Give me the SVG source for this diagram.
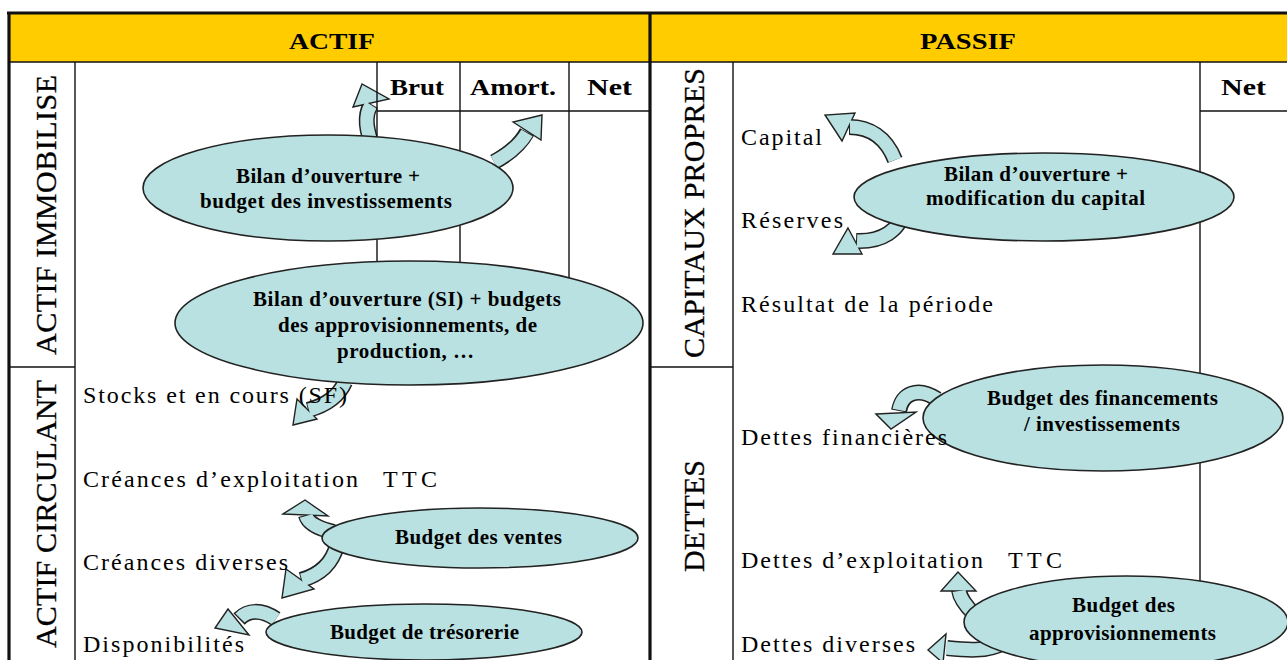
<svg xmlns="http://www.w3.org/2000/svg" width="1287" height="660" viewBox="0 0 1287 660">
<style>
.ln{stroke:#111;stroke-width:1.4;fill:none}
.thick{stroke:#111;stroke-width:3.2;fill:none}
.hdr{font-family:"Liberation Serif",serif;font-weight:bold;font-size:23px;fill:#000;text-anchor:middle}
.col{font-family:"Liberation Serif",serif;font-weight:bold;font-size:23px;fill:#000}
.side{font-family:"Liberation Serif",serif;font-size:30px;fill:#000;text-anchor:middle;stroke:#000;stroke-width:0.3}
.body{font-family:"Liberation Serif",serif;font-size:24px;fill:#000}
.node ellipse{fill:#b9e1e1;stroke:#222;stroke-width:1.6}
.node text{font-family:"Liberation Serif",serif;font-weight:bold;font-size:21px;fill:#000}
.bo{fill:none;stroke:#222;stroke-width:16;stroke-linecap:butt}
.bi{fill:none;stroke:#b9e1e1;stroke-width:13;stroke-linecap:butt}
.hd{fill:#b9e1e1;stroke:#222;stroke-width:1.4;stroke-linejoin:miter}
</style>
<rect x="0" y="0" width="1287" height="660" fill="#fff"/>
<rect x="9" y="13" width="1278" height="49" fill="#ffcc00"/>

<g id="connectors">
  <g id="arr-brut">
    <path class="bo" d="M374 150 C366 130 364 116 371 104"/>
    <polygon class="hd" points="353,107 389,99 362,84"/>
    <path class="bi" d="M374 150 C366 130 364 116 371 105"/>
  </g>
  <g id="arr-amort">
    <path class="bo" d="M494 162 C511 153 521 143 527 132"/>
    <polygon class="hd" points="513,122 541,140 542,115"/>
    <path class="bi" d="M494 162 C511 153 521 143 527 133"/>
  </g>
  <g id="arr-stocks">
    <path class="bo" d="M345 382 C338 398 323 406 308 410"/>
    <polygon class="hd" points="297,399 317,419 293,425"/>
    <path class="bi" d="M345 382 C338 398 323 406 309 410"/>
  </g>
  <g id="arr-creances-exp">
    <path class="bo" d="M334 532 C319 529 308 523 306 515"/>
    <polygon class="hd" points="283,514 328,516 305,500"/>
    <path class="bi" d="M334 532 C319 529 308 523 306 516"/>
  </g>
  <g id="arr-creances-div">
    <path class="bo" d="M337 545 C332 565 319 575 301 580"/>
    <polygon class="hd" points="286,569 314,589 282,598"/>
    <path class="bi" d="M337 545 C332 565 319 575 302 580"/>
  </g>
  <g id="arr-dispo">
    <path class="bo" d="M276 619 C261 609 248 610 239 619"/>
    <polygon class="hd" points="228,609 249,635 215,628"/>
    <path class="bi" d="M276 619 C261 609 248 610 240 618"/>
  </g>
  <g id="arr-capital">
    <path class="bo" d="M895 160 C886 137 869 127 849 127"/>
    <polygon class="hd" points="855,113 842,141 825,115"/>
    <path class="bi" d="M895 160 C886 137 869 127 850 127"/>
  </g>
  <g id="arr-reserves">
    <path class="bo" d="M904 208 C901 231 881 242 856 241"/>
    <polygon class="hd" points="848,228 862,254 833,254"/>
    <path class="bi" d="M904 208 C901 231 881 242 857 241"/>
  </g>
  <g id="arr-dettes-fin">
    <path class="bo" d="M937 399 C917 386 902 394 899 411"/>
    <polygon class="hd" points="876,414 916,412 891,429"/>
    <path class="bi" d="M937 399 C917 386 902 394 899 410"/>
  </g>
  <g id="arr-dettes-exp">
    <path class="bo" d="M974 614 C966 606 960 598 959 590"/>
    <polygon class="hd" points="941,591 976,591 958,572"/>
    <path class="bi" d="M974 614 C966 606 960 598 959 591"/>
  </g>
  <g id="arr-dettes-div">
    <path class="bo" d="M1003 643 C987 652 966 650 947 648"/>
    <polygon class="hd" points="946,634 943,663 928,650"/>
    <path class="bi" d="M1003 643 C987 652 966 650 946 648"/>
  </g>
</g>

<g id="table">
  <line class="thick" x1="7" y1="13" x2="1287" y2="13"/>
  <line class="thick" x1="9" y1="12" x2="9" y2="660"/>
  <line class="thick" x1="650" y1="12" x2="650" y2="660"/>
  <line class="ln" x1="9" y1="62" x2="1287" y2="62"/>
  <line class="ln" x1="75" y1="62" x2="75" y2="660"/>
  <line class="ln" x1="733" y1="62" x2="733" y2="660"/>
  <line class="ln" x1="9" y1="367" x2="75" y2="367"/>
  <line class="ln" x1="650" y1="367" x2="733" y2="367"/>
  <line class="ln" x1="377" y1="62" x2="377" y2="367"/>
  <line class="ln" x1="460" y1="62" x2="460" y2="367"/>
  <line class="ln" x1="569" y1="62" x2="569" y2="367"/>
  <line class="ln" x1="377" y1="111" x2="649" y2="111"/>
  <line class="ln" x1="1200" y1="62" x2="1200" y2="660"/>
  <line class="ln" x1="1200" y1="111" x2="1287" y2="111"/>
  <text class="hdr" x="332" y="49" textLength="86" lengthAdjust="spacingAndGlyphs">ACTIF</text>
  <text class="hdr" x="968" y="49" textLength="96" lengthAdjust="spacingAndGlyphs">PASSIF</text>
  <text class="col" x="390" y="95" textLength="54" lengthAdjust="spacingAndGlyphs">Brut</text>
  <text class="col" x="470" y="95" textLength="86" lengthAdjust="spacingAndGlyphs">Amort.</text>
  <text class="col" x="587" y="95" textLength="45" lengthAdjust="spacingAndGlyphs">Net</text>
  <text class="col" x="1221" y="95" textLength="45" lengthAdjust="spacingAndGlyphs">Net</text>
  <text class="side" transform="translate(56,215) rotate(-90)" textLength="280">ACTIF IMMOBILISE</text>
  <text class="side" transform="translate(56,514) rotate(-90)" textLength="268">ACTIF CIRCULANT</text>
  <text class="side" transform="translate(704,213) rotate(-90)" textLength="290">CAPITAUX PROPRES</text>
  <text class="side" transform="translate(704,516) rotate(-90)" textLength="112">DETTES</text>
</g>

<g id="n-immo" class="node">
  <ellipse cx="328" cy="188" rx="185" ry="53"/>
  <text x="236" y="183" textLength="184">Bilan d’ouverture +</text>
  <text x="200" y="208" textLength="252">budget des investissements</text>
</g>
<g id="n-stocks" class="node">
  <ellipse cx="409" cy="323" rx="234" ry="62"/>
  <text x="253" y="306" textLength="308">Bilan d’ouverture (SI) + budgets</text>
  <text x="278" y="332" textLength="259">des approvisionnements, de</text>
  <text x="337" y="358" textLength="137">production, …</text>
</g>
<g id="n-ventes" class="node">
  <ellipse cx="480" cy="538" rx="158" ry="30"/>
  <text x="395" y="544" textLength="167">Budget des ventes</text>
</g>
<g id="n-tresorerie" class="node">
  <ellipse cx="424" cy="632" rx="158" ry="28"/>
  <text x="330" y="639" textLength="189">Budget de trésorerie</text>
</g>
<g id="n-capital" class="node">
  <ellipse cx="1044" cy="197" rx="190" ry="44"/>
  <text x="944" y="181" textLength="184">Bilan d’ouverture +</text>
  <text x="926" y="205" textLength="219">modification du capital</text>
</g>
<g id="n-financements" class="node">
  <ellipse cx="1103" cy="418" rx="180" ry="53"/>
  <text x="987" y="405" textLength="231">Budget des financements</text>
  <text x="1024" y="431" textLength="156">/ investissements</text>
</g>
<g id="n-appro" class="node">
  <ellipse cx="1126" cy="622" rx="162" ry="46"/>
  <text x="1072" y="612" textLength="103">Budget des</text>
  <text x="1029" y="640" textLength="187">approvisionnements</text>
</g>

<g id="labels">
  <text class="body" x="83" y="403" textLength="264">Stocks et en cours (SF)</text>
  <text class="body" x="83" y="487"><tspan textLength="275">Créances d’exploitation</tspan><tspan x="383" textLength="54">TTC</tspan></text>
  <text class="body" x="83" y="570" textLength="205">Créances diverses</text>
  <text class="body" x="83" y="652" textLength="161">Disponibilités</text>
  <text class="body" x="741" y="145" textLength="81">Capital</text>
  <text class="body" x="741" y="228" textLength="102">Réserves</text>
  <text class="body" x="741" y="312" textLength="252">Résultat de la période</text>
  <text class="body" x="741" y="445" textLength="206">Dettes financières</text>
  <text class="body" x="741" y="568"><tspan textLength="242">Dettes d’exploitation</tspan><tspan x="1008" textLength="54">TTC</tspan></text>
  <text class="body" x="741" y="652" textLength="174">Dettes diverses</text>
</g>
</svg>
